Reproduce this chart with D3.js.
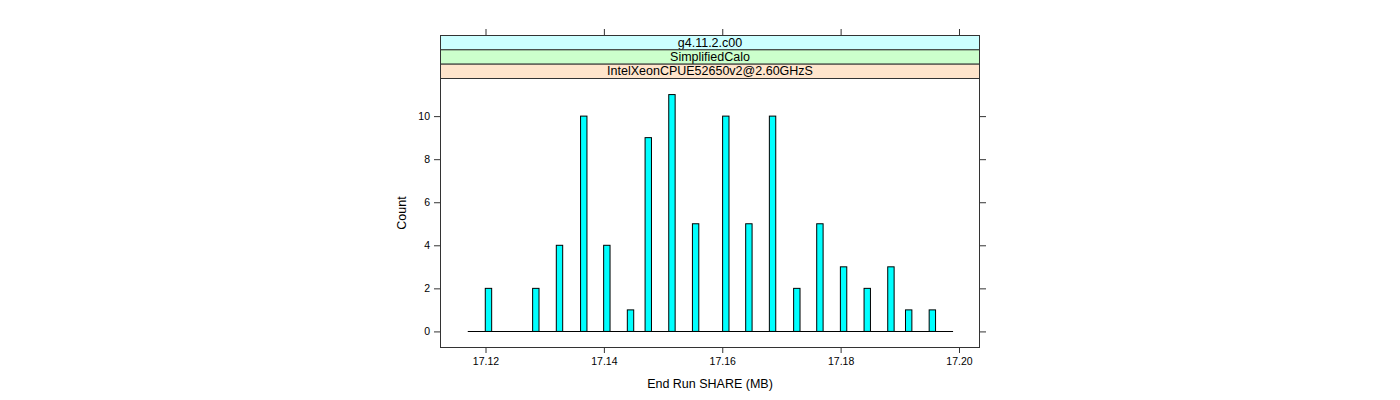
<!DOCTYPE html>
<html><head><meta charset="utf-8">
<script src="https://cdn.jsdelivr.net/npm/d3@7"></script>
<style>body{margin:0;background:#fff}svg text{font-family:"Liberation Sans",Arial,sans-serif}</style>
</head><body><svg id="c" width="1400" height="400"></svg>
<script>
const binCenters = [17.1205, 17.1285, 17.1325, 17.1366, 17.1405, 17.1445, 17.1475, 17.1515, 17.1555, 17.1606, 17.1645, 17.1685, 17.1726, 17.1765, 17.1805, 17.1845, 17.1885, 17.1915, 17.1955];
const counts = [2, 2, 4, 10, 4, 1, 9, 11, 5, 10, 5, 10, 2, 5, 3, 2, 3, 1, 1];
const binWidth = 0.00108;
const histRange = [17.1170, 17.1990];
const xTicks = [17.12, 17.14, 17.16, 17.18, 17.20];
const yTicks = [0, 2, 4, 6, 8, 10];
const stripLabels = ["g4.11.2.c00", "SimplifiedCalo", "IntelXeonCPUE52650v2@2.60GHzS"];
const stripColors = ["#ccffff", "#ccffcc", "#ffe5cc"];
const xTitle = "End Run SHARE (MB)";
const yTitle = "Count";

const svg = d3.select("#c");
const L = 440, R = 980, T = 78, B = 348, stripTop = 35;
const x = d3.scaleLinear().domain([17.11231, 17.20355]).range([L, R]);
const y = d3.scaleLinear().domain([-0.77, 11.77]).range([B, T]);

// baseline (zero-height bins)
svg.append("line").attr("x1", x(histRange[0])).attr("x2", x(histRange[1]))
  .attr("y1", Math.round(y(0)) + 0.5).attr("y2", Math.round(y(0)) + 0.5)
  .attr("stroke", "#000").attr("stroke-width", 1);

// bars
svg.selectAll("rect.bar").data(binCenters).join("rect").attr("class", "bar")
  .attr("x", d => x(d - binWidth / 2))
  .attr("width", d => x(d + binWidth / 2) - x(d - binWidth / 2))
  .attr("y", (d, i) => y(counts[i]))
  .attr("height", (d, i) => y(0) - y(counts[i]))
  .attr("fill", "#00ffff").attr("stroke", "#000").attr("stroke-width", 1);

// panel border
svg.append("rect").attr("x", L + 0.5).attr("y", T + 0.5).attr("width", R - L - 1).attr("height", B - T - 1)
  .attr("fill", "none").attr("stroke", "#333");

// strips
const sh = (T - stripTop) / 3;
stripLabels.forEach((s, i) => {
  const yy = stripTop + i * sh;
  svg.append("rect").attr("x", L + 0.5).attr("y", yy + 0.5).attr("width", R - L - 1).attr("height", sh)
    .attr("fill", stripColors[i]).attr("stroke", "#333");
  svg.append("text").attr("x", (L + R) / 2).attr("y", yy + sh / 2 + 4.5).attr("text-anchor", "middle")
    .attr("font-size", 12.5).attr("fill", "#000").text(s);
});

// axes
const gB = svg.append("g").attr("transform", `translate(0,${B})`)
  .call(d3.axisBottom(x).tickValues(xTicks).tickFormat(d3.format(".2f")).tickSize(5).tickPadding(5));
const gT = svg.append("g").attr("transform", `translate(0,${stripTop})`)
  .call(d3.axisTop(x).tickValues(xTicks).tickFormat("").tickSize(6));
const gL = svg.append("g").attr("transform", `translate(${L},0)`)
  .call(d3.axisLeft(y).tickValues(yTicks).tickSize(6).tickPadding(4));
const gR = svg.append("g").attr("transform", `translate(${R},0)`)
  .call(d3.axisRight(y).tickValues(yTicks).tickFormat("").tickSize(6));
[gB, gT, gL, gR].forEach(g => {
  g.select(".domain").remove();
  g.selectAll("line").attr("stroke", "#333");
  g.selectAll("text").attr("font-size", 10.5).attr("fill", "#000").attr("font-family", "Liberation Sans, Arial, sans-serif");
});

svg.append("text").attr("x", (L + R) / 2).attr("y", 388).attr("text-anchor", "middle")
  .attr("font-size", 12.5).text(xTitle);
svg.append("text").attr("transform", `translate(406,${(T + B) / 2}) rotate(-90)`).attr("text-anchor", "middle")
  .attr("font-size", 12.5).text(yTitle);
</script></body></html>
